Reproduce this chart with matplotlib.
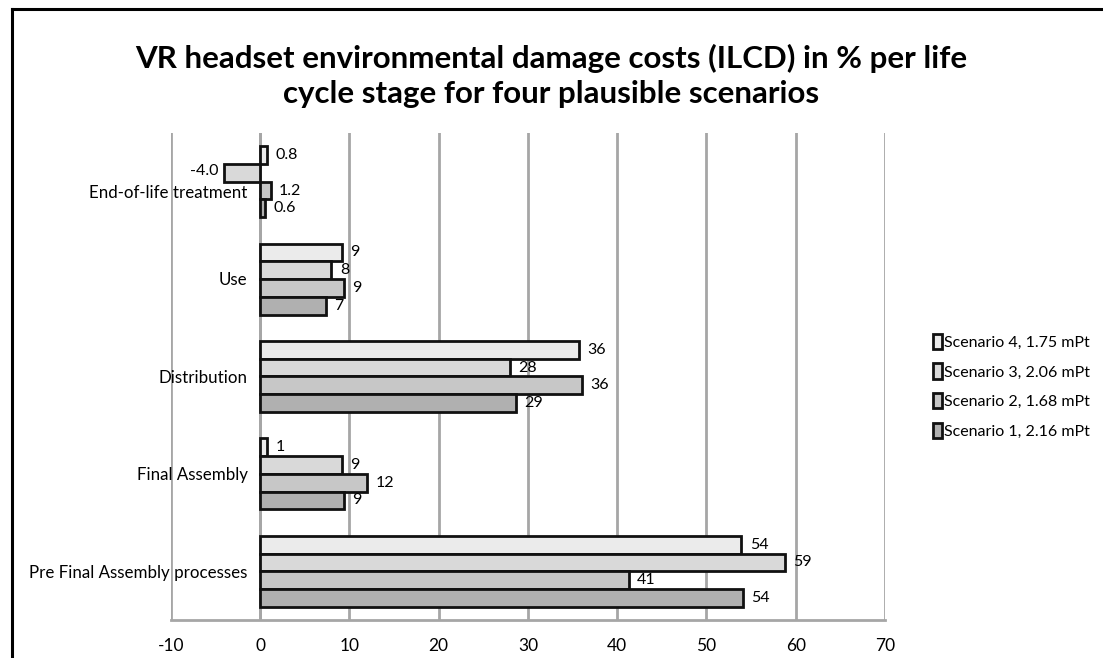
import matplotlib.pyplot as plt
from matplotlib.lines import Line2D
import numpy as np

plt.rcParams['font.family'] = ['Lato', 'DejaVu Sans']
plt.rcParams['axes.unicode_minus'] = False

# life cycle stages, top to bottom
stages = ['End-of-life treatment', 'Use', 'Distribution', 'Final Assembly',
          'Pre Final Assembly processes']
scenarios = ['Scenario 4, 1.75 mPt', 'Scenario 3, 2.06 mPt',
             'Scenario 2, 1.68 mPt', 'Scenario 1, 2.16 mPt']
scenario4 = [0.8, 9.2, 35.7, 0.8, 53.9]
scenario3 = [-4.0, 8.0, 28.0, 9.2, 58.8]
scenario2 = [1.2, 9.4, 36.1, 12.0, 41.3]
scenario1 = [0.6, 7.4, 28.7, 9.4, 54.1]
decimals = [1, 0, 0, 0, 0]
xticks = [-10, 0, 10, 20, 30, 40, 50, 60, 70]

series = [scenario4, scenario3, scenario2, scenario1]
colors = ['#ebebeb', '#d9d9d9', '#c7c7c7', '#b0b0b0']

fig = plt.figure(figsize=(11.03, 6.58), dpi=100)
ax = fig.add_axes([0.1548, 0.0578, 0.8024 - 0.1548, 0.7979 - 0.0578])

y = np.arange(len(stages))
h = 0.182
for j, (vals, col, name) in enumerate(zip(series, colors, scenarios)):
    pos = y + (j - 1.5) * h
    ax.barh(pos, vals, height=h, color=col, edgecolor='#111111',
            linewidth=2.0, label=name, zorder=3)
    for yy, v, d in zip(pos, vals, decimals):
        txt = f'{v:.{d}f}'
        if v >= 0:
            ax.annotate(txt, (v, yy), xytext=(6, 0), textcoords='offset points',
                        ha='left', va='center', fontsize=11.5, zorder=4)
        else:
            ax.annotate(txt, (v, yy), xytext=(-4, 1), textcoords='offset points',
                        ha='right', va='center', fontsize=11.5, zorder=4)

# category labels sit beside the value-axis at zero
for i, (yy, s) in enumerate(zip(y, stages)):
    dy = -8 if i == 0 else -1   # first label sits a bit lower, clear of -4.0
    ax.annotate(s, (0, yy), xytext=(-9, dy), textcoords='offset points',
                ha='right', va='center', fontsize=12.2, zorder=4)

ax.set_xlim(-10, 70)
ax.set_ylim(len(stages) - 0.5, -0.5)
ax.set_xticks(xticks)
ax.set_yticks([])
ax.tick_params(axis='x', length=0, pad=13, labelsize=12.5)
ax.grid(axis='x', color='#a6a6a6', linewidth=2.0, zorder=0)
ax.axvline(0, color='#a6a6a6', linewidth=2.0, zorder=1)
for side in ['top', 'right', 'left']:
    ax.spines[side].set_visible(False)
ax.spines['bottom'].set_color('#a6a6a6')
ax.spines['bottom'].set_linewidth(2.0)

ax.legend(loc='center left', bbox_to_anchor=(0.84, 0.413),
          bbox_transform=fig.transFigure, frameon=False, fontsize=11.5,
          handlelength=0.6, handleheight=1.1, handletextpad=0.1,
          labelspacing=0.85, borderaxespad=0)

fig.text(0.5, 0.885, 'VR headset environmental damage costs (ILCD) in % per life\n'
         'cycle stage for four plausible scenarios',
         ha='center', va='center', fontsize=22.5, fontweight='bold',
         linespacing=1.3)

# outer border (only left and top edges show in the crop)
fig.add_artist(Line2D([0.0109, 0.0109], [0, 0.9856], color='black',
                      linewidth=2.2, transform=fig.transFigure))
fig.add_artist(Line2D([0.0109, 1.0], [0.9856, 0.9856], color='black',
                      linewidth=2.2, transform=fig.transFigure))

fig.savefig('out.png', dpi=100)
